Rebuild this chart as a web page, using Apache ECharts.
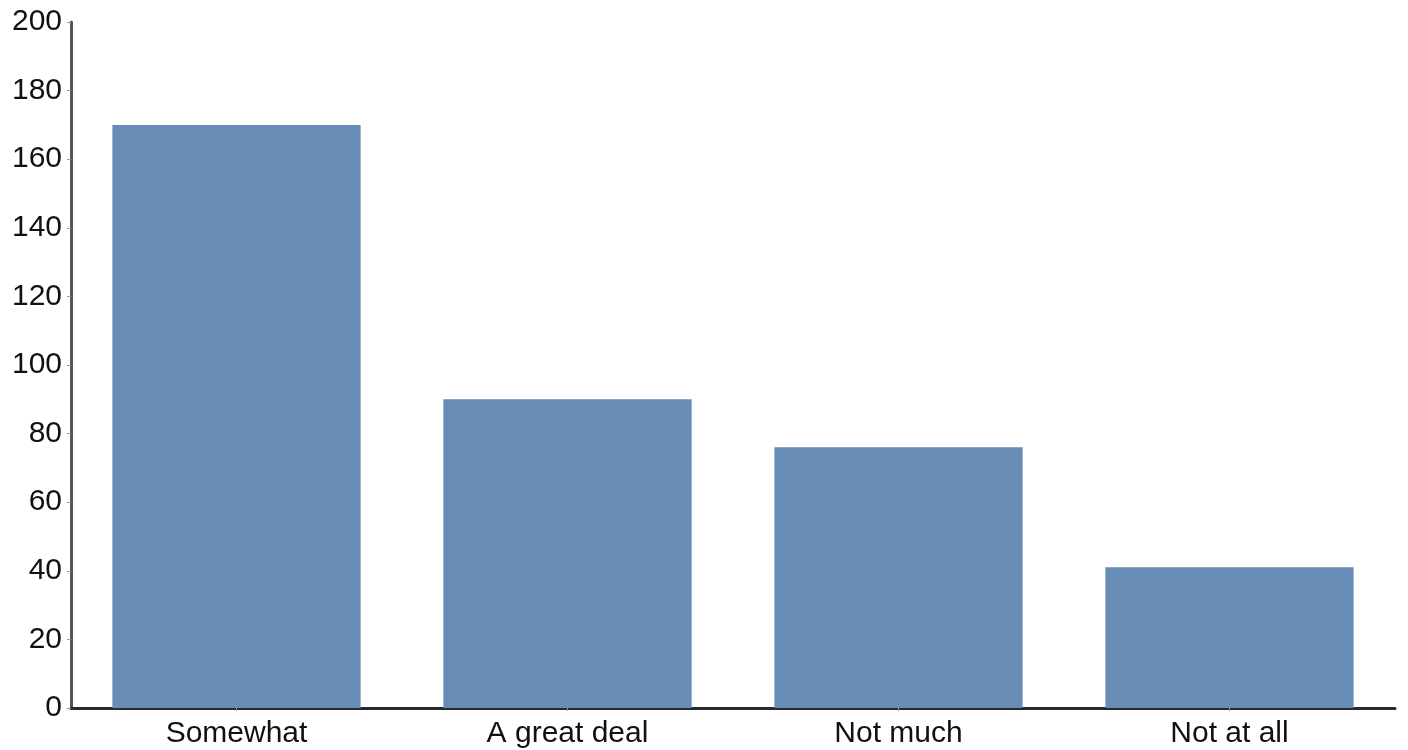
<!DOCTYPE html>
<html>
<head>
<meta charset="utf-8">
<script src="https://cdn.jsdelivr.net/npm/echarts@6/dist/echarts.min.js"></script>
<style>html,body{margin:0;padding:0;background:#fff}#c{width:1408px;height:750px}</style>
</head>
<body>
<div id="c"></div>
<script>
const categories = ["Somewhat", "A great deal", "Not much", "Not at all"];
const values = [170, 90, 76, 41];
const yTicks = [0, 20, 40, 60, 80, 100, 120, 140, 160, 180, 200];

const chart = echarts.init(document.getElementById('c'), null, {renderer: 'canvas'});
chart.setOption({
  animation: false,
  backgroundColor: '#ffffff',
  grid: {left: 71, right: 13, top: 22, bottom: 42, containLabel: false},
  xAxis: {
    type: 'category',
    data: categories,
    axisLine: {show: true, lineStyle: {color: '#2a2a2a', width: 3}},
    axisTick: {show: true, alignWithLabel: true, length: 3, lineStyle: {color: '#999999'}},
    axisLabel: {color: '#111111', fontSize: 30, fontFamily: 'Liberation Sans, Arial, sans-serif', margin: 11},
    splitLine: {show: false}
  },
  yAxis: {
    type: 'value',
    min: yTicks[0],
    max: yTicks[yTicks.length - 1],
    interval: yTicks[1] - yTicks[0],
    axisLine: {show: true, lineStyle: {color: '#555555', width: 3}},
    axisTick: {show: true, length: 4, lineStyle: {color: '#999999'}},
    axisLabel: {color: '#111111', fontSize: 30, fontFamily: 'Liberation Sans, Arial, sans-serif', margin: 9},
    splitLine: {show: false}
  },
  series: [{
    type: 'bar',
    data: values,
    barCategoryGap: '25%',
    itemStyle: {color: '#678cb6'}
  }]
});
</script>
</body>
</html>
